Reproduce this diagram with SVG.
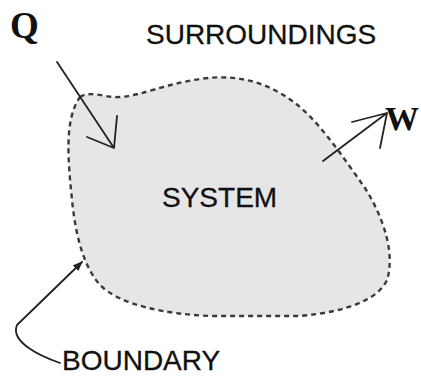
<svg xmlns="http://www.w3.org/2000/svg" width="421" height="376" viewBox="0 0 421 376">
<defs>
<style>
.lbl{font-family:"Liberation Sans",Arial,sans-serif;font-size:28px;fill:#111;stroke:#111;stroke-width:0.3}
.sym{font-family:"Liberation Serif","Times New Roman",serif;font-weight:bold;fill:#111}
.ln{fill:none;stroke:#222;stroke-width:1.8;stroke-linecap:round;stroke-linejoin:round}
</style>
<marker id="fa" markerWidth="10" markerHeight="8" refX="9" refY="4" orient="auto" markerUnits="userSpaceOnUse">
<path d="M0,0 L10,4 L0,8 Z" fill="#222"/>
</marker>
</defs>
<rect width="421" height="376" fill="#ffffff"/>
<g id="system">
<path d="M80,97 C90,90 105,98 120,97 C140,96 165,84 200,79 C240,73 270,84 295,103 C320,122 345,160 365,188 C385,220 395,255 387,280 C378,300 345,312 300,316 L210,316 C165,314 120,305 100,285 C85,268 76,240 72,200 C68,160 64,120 80,97 Z" fill="#e6e6e6" stroke="#3a3a3a" stroke-width="2.4" stroke-dasharray="5,4"/>
<text class="lbl" x="162" y="207">SYSTEM</text>
</g>
<g id="surroundings">
<text class="lbl" x="146" y="44">SURROUNDINGS</text>
</g>
<g id="Q">
<text class="sym" x="10" y="38" font-size="37">Q</text>
</g>
<g id="W">
<text class="sym" x="385" y="130" font-size="34">W</text>
</g>
<g id="boundary">
<text class="lbl" x="62" y="370">BOUNDARY</text>
</g>
<g id="connectors">
<path class="ln" d="M57,62 L114,148 M117,116 L114,148 L87,137"/>
<path class="ln" d="M323,161 L387,113 M352,122 L387,113 L380,148"/>
<path class="ln" d="M60,363 C40,356 10,342 17,325 L82,262" marker-end="url(#fa)"/>
</g>
</svg>
